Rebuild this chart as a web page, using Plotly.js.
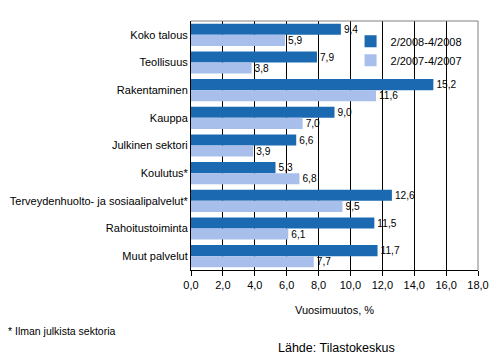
<!DOCTYPE html>
<html>
<head>
<meta charset="utf-8">
<script src="https://cdn.plot.ly/plotly-3.0.1.min.js"></script>
<style>html,body{margin:0;padding:0;background:#fff;}#chart{width:495px;height:361px;}</style>
</head>
<body>
<div id="chart"></div>
<script>
var categories = ["Koko talous","Teollisuus","Rakentaminen","Kauppa","Julkinen sektori","Koulutus*","Terveydenhuolto- ja sosiaalipalvelut*","Rahoitustoiminta","Muut palvelut"];
var series2008 = [9.4, 7.9, 15.2, 9.0, 6.6, 5.3, 12.6, 11.5, 11.7];
var series2007 = [5.9, 3.8, 11.6, 7.0, 3.9, 6.8, 9.5, 6.1, 7.7];
var seriesNames = ["2/2008-4/2008", "2/2007-4/2007"];
var tickVals = [0,2,4,6,8,10,12,14,16,18];

function fmt(v){ return v.toFixed(1).replace('.', ','); }
var font = {family: "Liberation Sans, Arial, sans-serif", size: 11, color: "#000"};

var traces = [
  {type:'bar', orientation:'h', name: seriesNames[0], y: categories, x: series2008,
   marker:{color:'#1a69b1'}, text: series2008.map(fmt), textposition:'outside',
   textfont: font, cliponaxis:false, hoverinfo:'none'},
  {type:'bar', orientation:'h', name: seriesNames[1], y: categories, x: series2007,
   marker:{color:'#a8bfeb'}, text: series2007.map(fmt), textposition:'outside',
   textfont: font, cliponaxis:false, hoverinfo:'none'}
];

var layout = {
  width:495, height:361,
  margin:{l:191, r:17, t:21, b:91, autoexpand:false},
  paper_bgcolor:'#fff', plot_bgcolor:'#fff',
  font: font,
  separators: ', ',
  barmode:'group', bargap:0.2, bargroupgap:0,
  showlegend:true,
  legend:{x:0.556, y:0.977, xanchor:'left', yanchor:'top', bgcolor:'rgba(0,0,0,0)',
          font:font, tracegroupgap:0, itemwidth:30},
  xaxis:{range:[0,18], tickvals:tickVals, ticktext: tickVals.map(fmt), automargin:false,
         showgrid:true, gridcolor:'#000', gridwidth:1, zeroline:false,
         showline:true, linecolor:'#000', linewidth:1,
         ticks:'outside', ticklen:5, tickcolor:'#000', tickfont:font,
         title:{text:'Vuosimuutos, %', font:font, standoff:16}},
  yaxis:{autorange:'reversed', showline:true, linecolor:'#000', linewidth:1, automargin:false,
         ticks:'', tickfont:font, showgrid:false, zeroline:false},
  shapes:[
    {type:'line', xref:'paper', yref:'paper', x0:0, x1:1, y0:1, y1:1, line:{color:'#808080', width:1}},
    {type:'line', xref:'paper', yref:'paper', x0:1, x1:1, y0:0, y1:1, line:{color:'#808080', width:1}}
  ],
  annotations:[
    {xref:'paper', yref:'paper', x:-0.645, y:-0.245, xanchor:'left', yanchor:'middle', showarrow:false,
     text:'* Ilman julkista sektoria', font:{family:font.family, size:10.5, color:'#000'}},
    {xref:'paper', yref:'paper', x:0.296, y:-0.313, xanchor:'left', yanchor:'middle', showarrow:false,
     text:'Lähde: Tilastokeskus', font:{family:font.family, size:12.5, color:'#000'}}
  ]
};

Plotly.newPlot('chart', traces, layout, {displayModeBar:false, staticPlot:true});
</script>
</body>
</html>
